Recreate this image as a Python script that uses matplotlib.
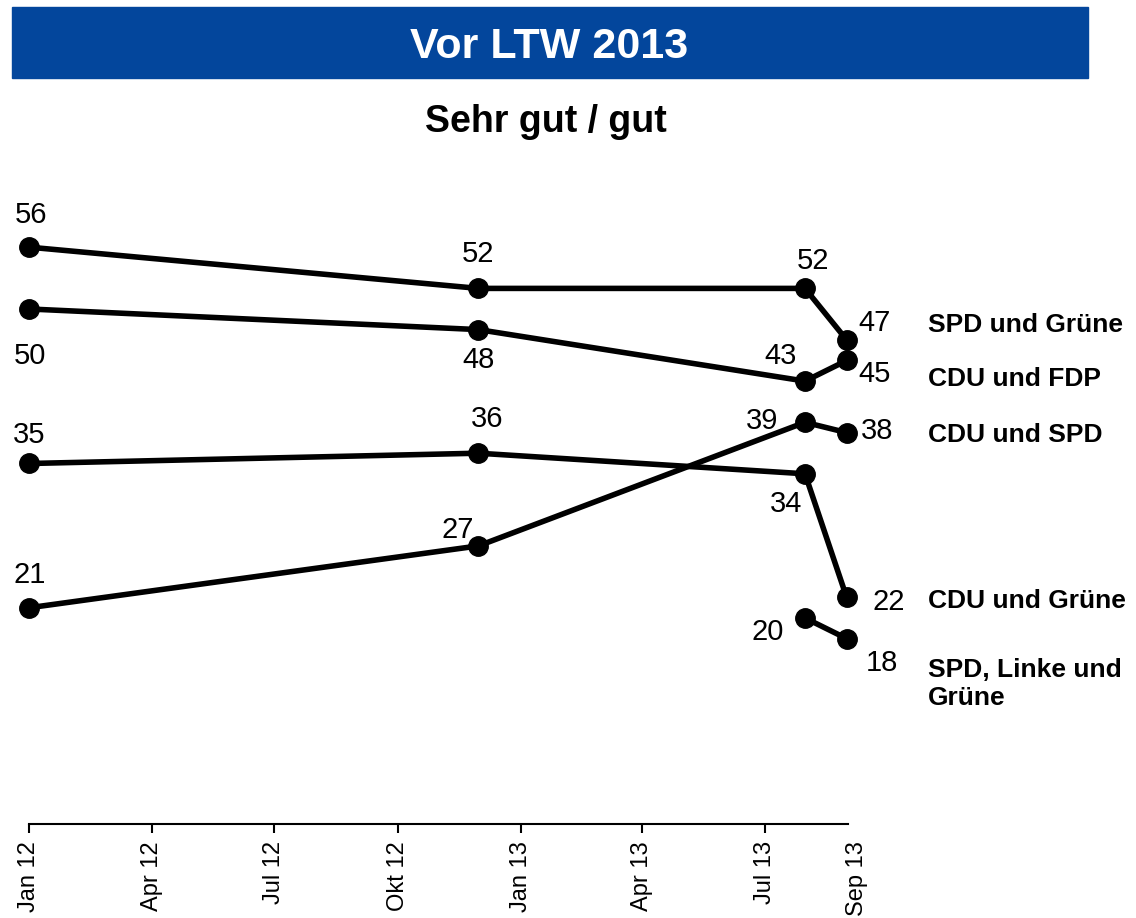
import numpy as np
import matplotlib
matplotlib.use("Agg")
import matplotlib.pyplot as plt
import matplotlib.dates as mdates
from matplotlib.transforms import ScaledTranslation

plt.rcParams['font.family'] = ['Liberation Sans', 'DejaVu Sans']

# --- data ---
survey_dates = np.array(['2012-01-01', '2012-11-30', '2013-07-31', '2013-08-31'],
                        dtype='datetime64[D]')
series_names = ['SPD und Grüne', 'CDU und FDP', 'CDU und SPD', 'CDU und Grüne',
                'SPD, Linke und\nGrüne']
spd_gruene = [56, 52, 52, 47]
cdu_fdp = [50, 48, 43, 45]
cdu_spd = [21, 27, 39, 38]
cdu_gruene = [35, 36, 34, 22]
spd_linke_gruene = [np.nan, np.nan, 20, 18]
series_values = [spd_gruene, cdu_fdp, cdu_spd, cdu_gruene, spd_linke_gruene]

tick_dates = np.array(['2012-01-01', '2012-04-01', '2012-07-01', '2012-10-01',
                       '2013-01-01', '2013-04-01', '2013-07-01', '2013-09-01'],
                      dtype='datetime64[D]')
tick_labels = ['Jan 12', 'Apr 12', 'Jul 12', 'Okt 12', 'Jan 13', 'Apr 13', 'Jul 13', 'Sep 13']

# value label offsets in pixels (dx, dy of baseline centre from the point)
value_offsets = [
    [(2, 24), (0, 26), (8, 19), (28, 9)],
    [(0, -55), (0, -38), (-24, 17), (28, -22)],
    [(0, 25), (-21, 8), (-43, -7), (30, -6)],
    [(0, 20), (9, 26), (-19, -38), (42, -13)],
    [None, None, (-37, -22), (35, -32)],
]
# series name offsets in pixels from the last point (baseline of last line)
name_offsets = [(81, 8), (81, -26), (81, -9), (81, -11), (81, -66)]

blue = '#03469c'

fig = plt.figure(figsize=(11.36, 9.18), dpi=100)

# title bar
fig.patches.append(plt.Rectangle((12 / 1136, 1 - 78 / 918), 1076 / 1136, 71 / 918,
                                 transform=fig.transFigure, color=blue, zorder=0))
fig.text(549 / 1136, 1 - 58.5 / 918, 'Vor LTW 2013', color='white', fontsize=31,
         fontweight='bold', ha='center', va='baseline')
fig.text(546 / 1136, 1 - 131.5 / 918, 'Sehr gut / gut', color='black', fontsize=27,
         fontweight='bold', ha='center', va='baseline')

ax = fig.add_axes([29.5 / 1136, 94 / 918, 818.5 / 1136, 618 / 918])

x = mdates.date2num(survey_dates)
for name, vals, offs, noff in zip(series_names, series_values, value_offsets, name_offsets):
    ax.plot(x, vals, color='black', lw=4, marker='o', ms=14, clip_on=False, zorder=3)
    for xi, v, off in zip(x, vals, offs):
        if off is None or np.isnan(v):
            continue
        ax.annotate(f'{v:.0f}', (xi, v), xytext=off, textcoords='offset pixels',
                    ha='center', va='baseline', fontsize=21, annotation_clip=False)
    ax.annotate(name, (x[-1], vals[-1]), xytext=noff, textcoords='offset pixels',
                ha='left', va='baseline', fontsize=19, fontweight='bold',
                annotation_clip=False, linespacing=1.2)

ax.set_xlim(mdates.date2num(tick_dates[0]), mdates.date2num(tick_dates[-1]))
ax.set_ylim(0, 60)
ax.set_xticks(mdates.date2num(tick_dates))
ax.set_xticklabels(tick_labels, rotation=90, fontsize=17)
ax.tick_params(axis='x', length=6.5, width=1.5, pad=6, color='black')
ax.set_yticks([])
for side in ['top', 'right', 'left']:
    ax.spines[side].set_visible(False)
ax.spines['bottom'].set_linewidth(1.5)

# last tick has no tick mark, its label sits a little to the right
last_tick = ax.xaxis.get_major_ticks()[-1]
last_tick.tick1line.set_visible(False)
lbl = last_tick.label1
lbl.set_transform(lbl.get_transform() + ScaledTranslation(9 / 100, 0, fig.dpi_scale_trans))

fig.savefig('out.png', dpi=100)
